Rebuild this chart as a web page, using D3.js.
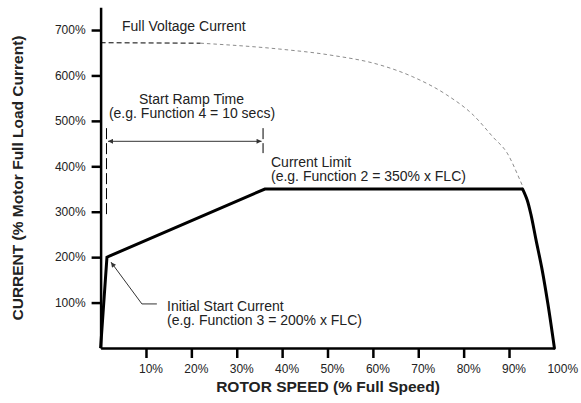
<!DOCTYPE html>
<html>
<head>
<meta charset="utf-8">
<script src="https://cdn.jsdelivr.net/npm/d3@7"></script>
<style>
    body { margin: 0; background: #fff; }
    svg { font-family: "Liberation Sans", Arial, sans-serif; }
    .axis path, .axis line { stroke: #000; stroke-width: 2.5; }
    .axis text { font-size: 12px; fill: #222; }
    .note { font-size: 14px; fill: #222; }
    .title { font-size: 15.5px; font-weight: bold; fill: #222; }
</style>
</head>
<body>
<svg id="chart" width="581" height="403"></svg>
<script>
/* motor current vs rotor speed, values in % */
var SPEED_TICKS = [10, 20, 30, 40, 50, 60, 70, 80, 90, 100];
var CURRENT_TICKS = [100, 200, 300, 400, 500, 600, 700];

/* soft start curve: ramp + current limit */
var rampSpeed = [0, 1.4, 36.2, 93];
var rampCurrent = [0, 200, 350, 350];

/* drop-off towards full speed */
var dropSpeed = [93, 94, 94.85, 95.95, 97.3, 98.6, 100];
var dropCurrent = [350, 326, 293, 238, 172, 95, 0];

/* direct on line current */
var fullVoltageSpeed = [0, 22, 39.5, 50.5, 61.6, 68.8, 76.3, 82.1, 86.5, 89.6, 92.4, 93.1];
var fullVoltageCurrent = [672, 671, 658, 645, 623, 597, 557, 513, 464, 429, 370, 354];

/* annotation anchors (speed %, current %) */
var RAMP_START = 1.3, RAMP_END = 35.8;
var rampMarkerTop = 484, rampLeftBottom = 286, rampRightBottom = 429, rampArrowAt = 455;
var leaderSpeed = [12.4, 9.1, 2.3];
var leaderCurrent = [97, 97, 189];

function zip(xs, ys) {
    return xs.map(function (x, i) { return [x, ys[i]]; });
}

function init() {
    var svg = d3.select("#chart");

    var x = d3.scaleLinear().domain([0, 100]).range([100.6, 554.4]);
    var y = d3.scaleLinear().domain([0, 750]).range([348, 7.3]);

    var line = d3.line()
        .x(function (d) { return x(d[0]); })
        .y(function (d) { return y(d[1]); });

    /* arrow heads */
    svg.append("defs").append("marker")
        .attr("id", "arrow")
        .attr("viewBox", "0 0 10 10")
        .attr("refX", 10).attr("refY", 5)
        .attr("markerWidth", 7).attr("markerHeight", 5)
        .attr("markerUnits", "userSpaceOnUse")
        .attr("orient", "auto-start-reverse")
        .append("path")
        .attr("d", "M0,0L10,5L0,10z")
        .attr("fill", "#333");

    /* axes */
    var xAxis = svg.append("g")
        .attr("class", "axis")
        .attr("transform", "translate(0," + y(0) + ")")
        .call(d3.axisBottom(x).tickValues(SPEED_TICKS).tickSize(10).tickSizeOuter(0).tickPadding(6.5)
            .tickFormat(function (d) { return d + "%"; }));
    xAxis.selectAll(".tick text").attr("text-anchor", "start").attr("dx", -7.5);
    xAxis.selectAll(".tick").filter(function (d) { return d === 100; }).select("line").remove();

    svg.append("g")
        .attr("class", "axis")
        .attr("transform", "translate(" + x(0) + ",0)")
        .call(d3.axisLeft(y).tickValues(CURRENT_TICKS).tickSize(9).tickSizeOuter(0).tickPadding(6)
            .tickFormat(function (d) { return d + "%"; }));

    svg.selectAll(".axis .domain").attr("fill", "none");

    /* full voltage current (dashed) */
    var fullVoltage = zip(fullVoltageSpeed, fullVoltageCurrent);
    svg.append("path")
        .attr("d", line.curve(d3.curveMonotoneX)(fullVoltage.slice(1)))
        .attr("fill", "none")
        .attr("stroke", "#8c8c8c")
        .attr("stroke-width", 1)
        .attr("stroke-dasharray", "3.5,3");
    svg.append("path")
        .attr("d", line.curve(d3.curveLinear)(fullVoltage.slice(0, 2)))
        .attr("fill", "none")
        .attr("stroke", "#000")
        .attr("stroke-width", 1)
        .attr("stroke-dasharray", "5,3");

    /* soft start current */
    svg.append("path")
        .attr("d", line.curve(d3.curveLinear)(zip(rampSpeed, rampCurrent)))
        .attr("fill", "none")
        .attr("stroke", "#000")
        .attr("stroke-width", 3)
        .attr("stroke-linejoin", "miter");
    svg.append("path")
        .attr("d", line.curve(d3.curveCatmullRom)(zip(dropSpeed, dropCurrent)))
        .attr("fill", "none")
        .attr("stroke", "#000")
        .attr("stroke-width", 3)
        .attr("stroke-linecap", "round");

    /* start ramp time markers */
    svg.append("line")
        .attr("x1", x(RAMP_START)).attr("x2", x(RAMP_START))
        .attr("y1", y(rampMarkerTop)).attr("y2", y(rampLeftBottom))
        .attr("stroke", "#000").attr("stroke-width", 1)
        .attr("stroke-dasharray", "11,4");
    svg.append("line")
        .attr("x1", x(RAMP_END)).attr("x2", x(RAMP_END))
        .attr("y1", y(rampMarkerTop)).attr("y2", y(rampRightBottom))
        .attr("stroke", "#000").attr("stroke-width", 1)
        .attr("stroke-dasharray", "11,4");
    svg.append("line")
        .attr("x1", x(RAMP_START) + 1.5).attr("x2", x(RAMP_END) - 1.5)
        .attr("y1", y(rampArrowAt)).attr("y2", y(rampArrowAt))
        .attr("stroke", "#333").attr("stroke-width", 1)
        .attr("marker-start", "url(#arrow)")
        .attr("marker-end", "url(#arrow)");

    /* initial start current leader */
    svg.append("path")
        .attr("d", line.curve(d3.curveLinear)(zip(leaderSpeed, leaderCurrent)))
        .attr("fill", "none")
        .attr("stroke", "#333").attr("stroke-width", 1)
        .attr("marker-end", "url(#arrow)");

    /* notes */
    svg.append("text").attr("class", "note")
        .attr("x", 122).attr("y", 31)
        .text("Full Voltage Current");

    var ramp = svg.append("text").attr("class", "note").attr("text-anchor", "middle");
    ramp.append("tspan").attr("x", 191.5).attr("y", 104).text("Start Ramp Time");
    ramp.append("tspan").attr("x", 192).attr("y", 118).text("(e.g. Function 4 = 10 secs)");

    var limit = svg.append("text").attr("class", "note");
    limit.append("tspan").attr("x", 271).attr("y", 167).text("Current Limit");
    limit.append("tspan").attr("x", 271).attr("y", 181).text("(e.g. Function 2 = 350% x FLC)");

    var initial = svg.append("text").attr("class", "note");
    initial.append("tspan").attr("x", 167).attr("y", 311).text("Initial Start Current");
    initial.append("tspan").attr("x", 167).attr("y", 325).text("(e.g. Function 3 = 200% x FLC)");

    /* axis titles */
    svg.append("text").attr("class", "title")
        .attr("text-anchor", "middle")
        .attr("x", 328).attr("y", 392)
        .text("ROTOR SPEED (% Full Speed)");
    svg.append("text").attr("class", "title")
        .attr("text-anchor", "middle")
        .attr("transform", "translate(23,178) rotate(-90)")
        .text("CURRENT (% Motor Full Load Current)");
}

init();
</script>
</body>
</html>
